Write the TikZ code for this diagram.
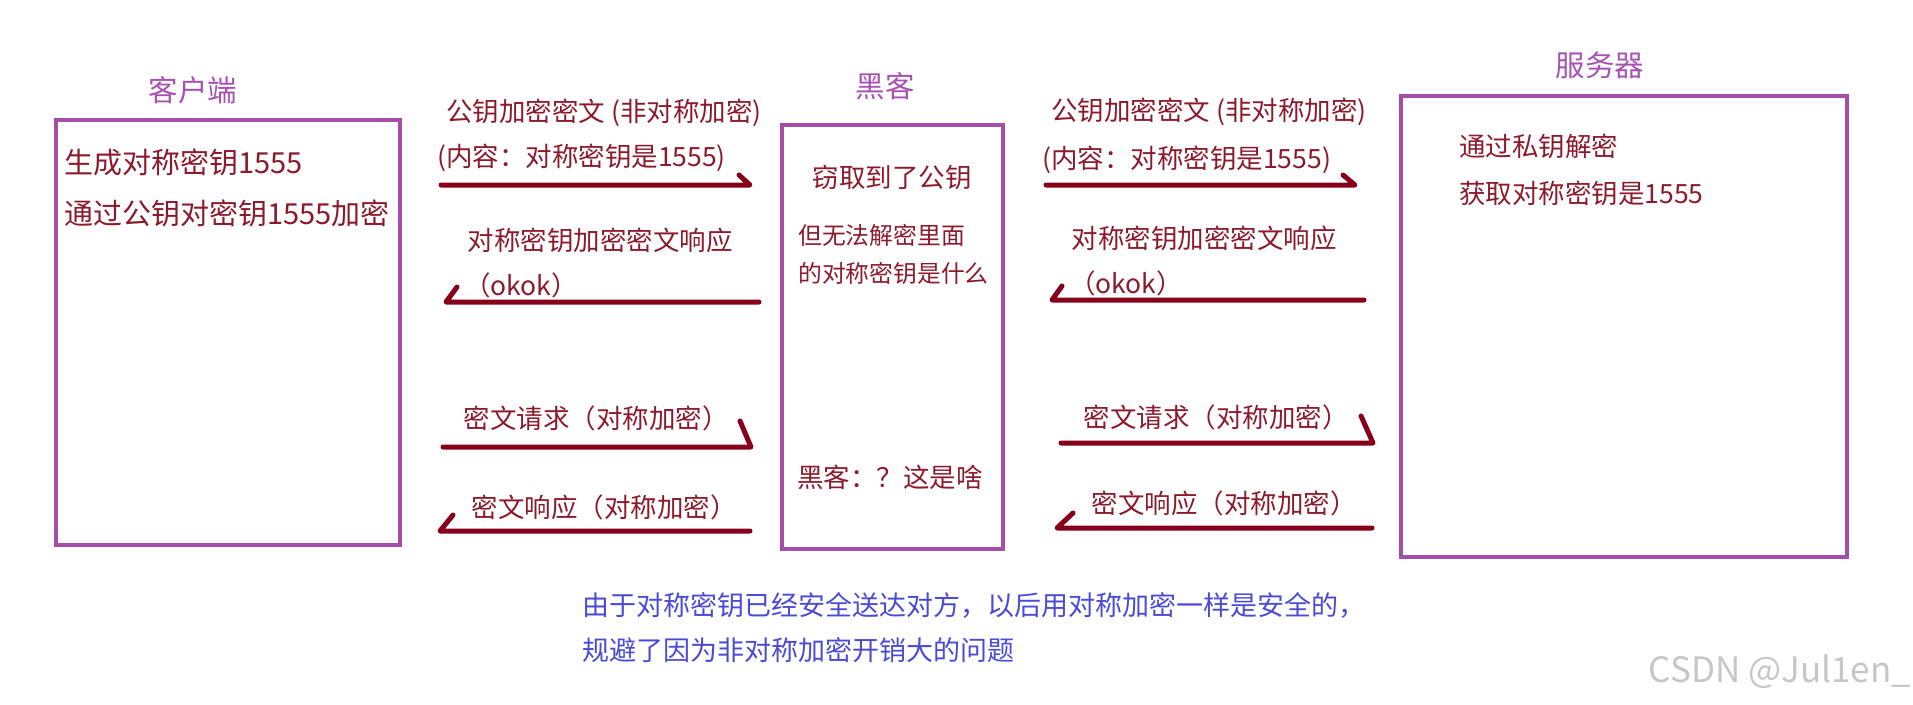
\documentclass[tikz,border=0pt]{standalone}
\usepackage{fontspec}
\setmainfont{Noto Sans CJK SC}
\definecolor{boxpurple}{HTML}{A54DA8}
\definecolor{titlepurple}{HTML}{A752B3}
\definecolor{txtred}{HTML}{8C1A2C}
\definecolor{arrred}{HTML}{86001A}
\definecolor{noteblue}{HTML}{4A4AD6}
\definecolor{wmgray}{HTML}{C6C6C6}
\newcommand{\fs}[1]{\fontsize{#1pt}{#1pt}\selectfont}
\tikzset{
  box/.style={draw=boxpurple, line width=4.5pt, inner sep=0pt, outer sep=0pt},
  ttl/.style={text=titlepurple, font=\fs{29.5}, inner sep=0pt},
  lbl/.style={text=txtred, font=\fs{26.5}, inner sep=0pt},
  big/.style={text=txtred, font=\fs{29}, inner sep=0pt, anchor=west},
  small/.style={text=txtred, font=\fs{23.8}, inner sep=0pt, anchor=west},
  note/.style={text=noteblue, font=\fs{27}, inner sep=0pt, anchor=west},
  arr/.style={draw=arrred, line width=5pt, line cap=round, line join=round},
}
\begin{document}
\begin{tikzpicture}[x=1pt,y=-1pt]
\useasboundingbox (0,0) rectangle (1913,704);
% boxes
\node[box, minimum width=344pt, minimum height=425pt] (client) at (228,332.5) {};
\node[box, minimum width=221pt, minimum height=424pt] (hacker) at (892.5,337) {};
\node[box, minimum width=446pt, minimum height=461pt] (server) at (1624,326.5) {};
% titles
\node[ttl] (tclient) at (193,90) {客户端};
\node[ttl] (thacker) at (885,86) {黑客};
\node[ttl] (tserver) at (1600,65) {服务器};
% box texts
\node[big] (c1) at (64,162) {生成对称密钥1555};
\node[big] (c2) at (64,213) {通过公钥对密钥1555加密};
\node[lbl] (h1) at (892,177) {窃取到了公钥};
\node[small] (h2) at (798,235) {但无法解密里面};
\node[small] (h3) at (798,273) {的对称密钥是什么};
\node[lbl, anchor=west] (h4) at (797,477) {黑客：？这是啥};
\node[lbl, anchor=west] (s1) at (1459,146) {通过私钥解密};
\node[lbl, anchor=west] (s2) at (1459,193) {获取对称密钥是1555};
% left labels
\node[lbl] (l1a) at (604,113) {公钥加密密文 (非对称加密)};
\node[lbl, anchor=west] (l1b) at (437,158) {(内容：对称密钥是1555)};
\node[lbl] (l2a) at (600,240) {对称密钥加密密文响应};
\node[lbl] (l2b) at (521,285) {（okok）};
\node[lbl] (l3) at (596,418) {密文请求（对称加密）};
\node[lbl] (l4) at (604,507) {密文响应（对称加密）};
% right labels
\node[lbl] (r1a) at (1209,112) {公钥加密密文 (非对称加密)};
\node[lbl, anchor=west] (r1b) at (1042,160) {(内容：对称密钥是1555)};
\node[lbl] (r2a) at (1204,238) {对称密钥加密密文响应};
\node[lbl] (r2b) at (1126,283) {（okok）};
\node[lbl] (r3) at (1216,417) {密文请求（对称加密）};
\node[lbl] (r4) at (1224,503) {密文响应（对称加密）};
% arrow end points
\coordinate (a1s) at (441,185); \coordinate (a1e) at (750,185);
\coordinate (a2s) at (759,302); \coordinate (a2e) at (446,302);
\coordinate (a3s) at (443,447); \coordinate (a3e) at (751,447);
\coordinate (a4s) at (750,531); \coordinate (a4e) at (440,531);
\coordinate (b1s) at (1046,185); \coordinate (b1e) at (1355,185);
\coordinate (b2s) at (1364,300); \coordinate (b2e) at (1052,300);
\coordinate (b3s) at (1061,443); \coordinate (b3e) at (1373,443);
\coordinate (b4s) at (1372,528); \coordinate (b4e) at (1057,528);
% arrows with hand-drawn barbs
\draw[arr] (a1s) -- (a1e) -- ++(-11,-10);
\draw[arr] (a2s) -- (a2e) -- ++(11,-15);
\draw[arr] (a3s) -- (a3e) -- ++(-11,-26);
\draw[arr] (a4s) -- (a4e) -- ++(13,-16);
\draw[arr] (b1s) -- (b1e) -- ++(-12,-10);
\draw[arr] (b2s) -- (b2e) -- ++(10,-14);
\draw[arr] (b3s) -- (b3e) -- ++(-12,-27);
\draw[arr] (b4s) -- (b4e) -- ++(16,-15);
% note
\node[note] (n1) at (582,605) {由于对称密钥已经安全送达对方，以后用对称加密一样是安全的，};
\node[note] (n2) at (582,650) {规避了因为非对称加密开销大的问题};
% watermark
\node[text=wmgray, font=\fs{35}, inner sep=0pt] (wm) at (1780,672) {CSDN @Jul1en\_};
\end{tikzpicture}
\end{document}
